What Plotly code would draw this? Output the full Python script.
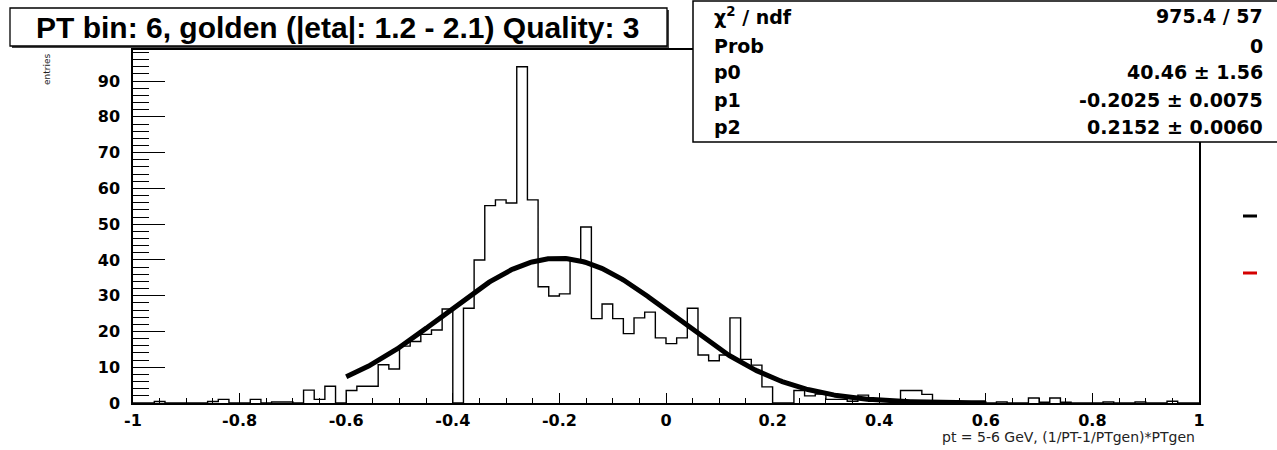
import numpy as np
import plotly.graph_objects as go

# Histogram binning: 100 bins on [-1, 1]
x_low, x_high, n_bins = -1.0, 1.0, 100

# Bin contents, left to right
counts = [
    0, 0, 0.4, 0, 0, 0, 0, 0.4, 1.0, 0,
    0, 1.0, 0, 0.3, 0.3, 0, 3.6, 1.0, 4.7, 0,
    3.5, 4.7, 4.7, 10.7, 9.5, 15.9, 17.2, 19.2, 20.4, 26.3,
    0, 26.5, 40.0, 55.2, 56.8, 55.9, 94.0, 56.8, 32.5, 29.9,
    30.5, 40.0, 49.2, 23.6, 27.7, 23.6, 19.4, 23.8, 25.4, 18.2,
    16.6, 18.2, 26.5, 13.4, 11.8, 13.4, 23.8, 12.2, 10.6, 4.5,
    0, 0, 3.5, 2.0, 2.5, 1.0, 1.0, 0.5, 2.2, 0.5,
    1.0, 0.5, 3.5, 3.5, 2.4, 0.3, 0.3, 0.3, 0.3, 0.3,
    0, 0.3, 0, 0, 1.4, 0.2, 1.4, 0.2, 0, 0,
    0, 0.3, 0, 0, 0.3, 0, 0, 0.5, 0, 0,
]

# Gaussian fit result and its range
fit_p0, fit_p1, fit_p2 = 40.46, -0.2025, 0.2152
fit_range = (-0.6, 0.6)

# Axis tick labels
x_tickvals = [-1, -0.8, -0.6, -0.4, -0.2, 0, 0.2, 0.4, 0.6, 0.8, 1]
x_ticktext = ["-1", "-0.8", "-0.6", "-0.4", "-0.2", "0", "0.2", "0.4", "0.6", "0.8", "1"]
y_tickvals = [0, 10, 20, 30, 40, 50, 60, 70, 80, 90]
y_ticktext = ["0", "10", "20", "30", "40", "50", "60", "70", "80", "90"]

# Stats box rows
stat_labels = ["χ<sup>2</sup> / ndf", "Prob", "p0", "p1", "p2"]
stat_values = ["975.4 / 57", "0", "40.46 ± 1.56", "-0.2025 ± 0.0075", "0.2152 ± 0.0060"]

title_text = "PT bin: 6, golden (|eta|: 1.2 - 2.1) Quality: 3"
x_title = "pt = 5-6 GeV, (1/PT-1/PTgen)*PTgen"
y_title = "entries"

W, H = 1277, 450
L, R, T, B = 133, 78, 50, 47
PW, PH = W - L - R, H - T - B


def px(x):
    return (x - L) / PW


def py(y):
    return (H - B - y) / PH


edges = np.linspace(x_low, x_high, n_bins + 1)
step_x = list(edges[:-1]) + [edges[-1]]
step_y = list(counts) + [counts[-1]]

fx = np.linspace(fit_range[0], fit_range[1], 400)
fy = fit_p0 * np.exp(-0.5 * ((fx - fit_p1) / fit_p2) ** 2)

y_max = 1.05 * max(counts)

fig = go.Figure()
fig.add_trace(go.Scatter(
    x=step_x, y=step_y, mode="lines", line=dict(color="black", width=1.4, shape="hv"),
    hoverinfo="skip", showlegend=False,
))
fig.add_trace(go.Scatter(
    x=fx, y=fy, mode="lines", line=dict(color="black", width=5),
    hoverinfo="skip", showlegend=False,
))

tick_font = dict(family="DejaVu Sans", size=16, color="black", weight="bold")

fig.update_layout(
    width=W, height=H,
    margin=dict(l=L, r=R, t=T, b=B, pad=0),
    paper_bgcolor="white", plot_bgcolor="white",
    xaxis=dict(
        range=[x_low, x_high], showgrid=False, zeroline=False,
        showline=True, linecolor="black", linewidth=1.5, mirror=True,
        tickmode="array", tickvals=x_tickvals, ticktext=x_ticktext,
        ticks="inside", ticklen=10,
        tickcolor="black", tickwidth=1, tickfont=tick_font, ticklabelstandoff=2,
        minor=dict(dtick=0.05, tick0=-1, ticks="inside", ticklen=5, tickcolor="black"),
    ),
    yaxis=dict(
        range=[0, y_max], showgrid=False, zeroline=False,
        showline=True, linecolor="black", linewidth=1.5, mirror=True,
        tickmode="array", tickvals=y_tickvals, ticktext=y_ticktext,
        ticks="inside", ticklen=32,
        tickcolor="black", tickwidth=1, tickfont=tick_font, ticklabelstandoff=8,
        minor=dict(dtick=2, tick0=0, ticks="inside", ticklen=16, tickcolor="black"),
    ),
    font=dict(family="DejaVu Sans", color="black"),
)

shapes = [
    # title box with a thin shadow
    dict(type="rect", xref="paper", yref="paper", x0=px(12), x1=px(669), y0=py(48), y1=py(10),
         line=dict(width=0), fillcolor="#444444", layer="above"),
    dict(type="rect", xref="paper", yref="paper", x0=px(10), x1=px(667), y0=py(46), y1=py(8),
         line=dict(color="black", width=1.3), fillcolor="white", layer="above"),
    # stats box
    dict(type="rect", xref="paper", yref="paper", x0=px(693), x1=px(1290), y0=py(142), y1=py(1),
         line=dict(color="black", width=1.5), fillcolor="white", layer="above"),
    # legend line samples at the right edge
    dict(type="line", xref="paper", yref="paper", x0=px(1243), x1=px(1257), y0=py(216), y1=py(216),
         line=dict(color="black", width=3)),
    dict(type="line", xref="paper", yref="paper", x0=px(1243), x1=px(1257), y0=py(273), y1=py(273),
         line=dict(color="#d40000", width=3)),
]
fig.update_layout(shapes=shapes)

ann = [
    dict(text=title_text, xref="paper", yref="paper", x=px(338), y=py(27),
         xanchor="center", yanchor="middle", showarrow=False,
         font=dict(family="Liberation Sans", size=30, color="black", weight="bold")),
    dict(text=x_title, xref="paper", yref="paper", x=px(1197), y=py(437),
         xanchor="right", yanchor="middle", showarrow=False,
         font=dict(family="DejaVu Sans", size=14, color="#222222")),
    dict(text=y_title, xref="paper", yref="paper", x=px(47), y=py(51),
         xanchor="center", yanchor="top", textangle=-90, showarrow=False,
         font=dict(family="DejaVu Sans", size=9, color="#222222")),
]
row_y = [16, 46, 72, 100, 127]
for lab, val, ry in zip(stat_labels, stat_values, row_y):
    ann.append(dict(text=lab, xref="paper", yref="paper", x=px(712), y=py(ry),
                    xanchor="left", yanchor="middle", showarrow=False,
                    font=dict(family="DejaVu Sans", size=19, color="black", weight="bold")))
    ann.append(dict(text=val, xref="paper", yref="paper", x=px(1265), y=py(ry),
                    xanchor="right", yanchor="middle", showarrow=False,
                    font=dict(family="DejaVu Sans", size=19, color="black", weight="bold")))
fig.update_layout(annotations=ann)

fig.write_html("out.html")
